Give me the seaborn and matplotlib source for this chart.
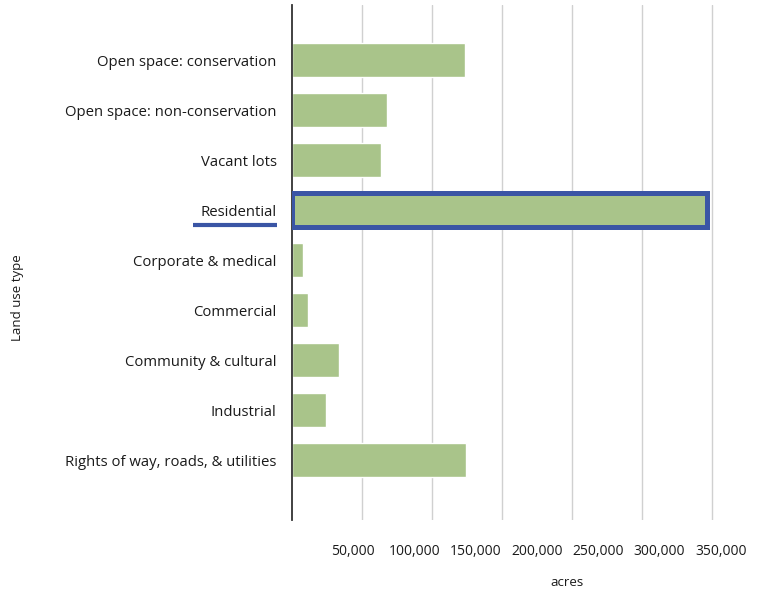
import matplotlib
matplotlib.use('Agg')
from matplotlib import pyplot as plt
from matplotlib import transforms
from matplotlib.ticker import LinearLocator, MultipleLocator, FuncFormatter
import seaborn as sns
import pandas as pd

# data (acres)
land_use = ['Open space: conservation', 'Open space: non-conservation', 'Vacant lots',
            'Residential', 'Corporate & medical', 'Commercial',
            'Community & cultural', 'Industrial', 'Rights of way, roads, & utilities']
acres = [141000, 77400, 73000, 338500, 9200, 12700, 38400, 27600, 142300]
highlight = 'Residential'

bar_green = '#a9c48a'
box_blue = '#3a55a5'

df = pd.DataFrame({'land_use': land_use, 'acres': acres})

sns.set_theme(style='white')
plt.rcParams['font.family'] = ['Open Sans', 'DejaVu Sans']

fig = plt.figure(figsize=(7.83, 5.95), dpi=100)
ax = fig.add_axes([292 / 783, 75 / 595, 490 / 783, 515 / 595])

sns.barplot(data=df, y='land_use', x='acres', orient='h', color=bar_green,
            width=0.69, saturation=1, ax=ax)

# box around the highlighted bar
idx = land_use.index(highlight)
bar = ax.patches[idx]
bar.set_edgecolor(box_blue)
bar.set_linewidth(3.6)
bar.set_zorder(3)

ax.set_xlim(0, 400000)
ax.set_ylim(len(land_use) - 1 + 1.2, -1.1)

# gridlines split the axis in 7 equal parts, labels every 50,000
ax.xaxis.set_major_locator(MultipleLocator(50000))
ax.xaxis.set_minor_locator(LinearLocator(8))
ax.xaxis.set_major_formatter(FuncFormatter(lambda v, p: '' if v <= 0 or v > 350000 else f'{v:,.0f}'))
ax.grid(False)
ax.grid(True, which='minor', axis='x', color='#d0d0d0', linewidth=1)
ax.set_axisbelow(True)

ax.tick_params(axis='x', which='both', length=0, pad=17, labelsize=10, colors='#1a1a1a')
ax.tick_params(axis='y', length=0, pad=11, labelsize=10.7, colors='#1a1a1a')

for s in ['top', 'right', 'bottom']:
    ax.spines[s].set_visible(False)
ax.spines['left'].set_color('#333333')
ax.spines['left'].set_linewidth(1.3)

ax.set_xlabel('acres', fontsize=9.5, color='#1a1a1a')
ax.set_ylabel('Land use type', fontsize=9.5, color='#1a1a1a')
ax.xaxis.set_label_coords(0.561, -0.108)
ax.yaxis.set_label_coords(-0.547, 0.431)

# underline under the highlighted category label
trans = transforms.blended_transform_factory(fig.transFigure, ax.transData)
ax.plot([193 / 783, 277 / 783], [idx + 0.3, idx + 0.3], transform=trans,
        color=box_blue, linewidth=3, solid_capstyle='butt', clip_on=False)

fig.savefig('out.png', dpi=100)
